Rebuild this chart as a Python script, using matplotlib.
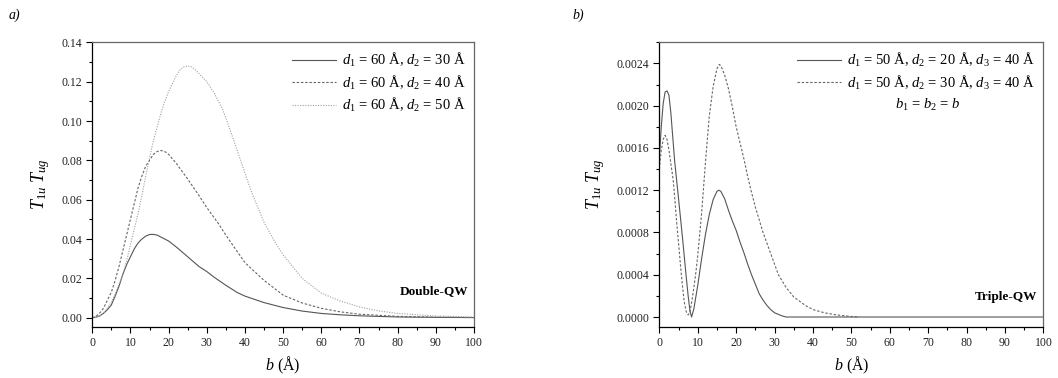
import matplotlib
matplotlib.use("Agg")
import matplotlib.pyplot as plt
from matplotlib.ticker import MultipleLocator, FormatStrFormatter

plt.rcParams['font.family'] = ['Liberation Serif', 'DejaVu Serif']
plt.rcParams['mathtext.fontset'] = 'custom'
plt.rcParams['mathtext.rm'] = 'Liberation Serif'
plt.rcParams['mathtext.it'] = 'Liberation Serif:italic'
plt.rcParams['mathtext.bf'] = 'Liberation Serif:bold'

# ---------------- Panel a) Double-QW ----------------
a_x_d30 = [0, 1, 2, 3, 4, 5, 6, 7, 8, 9, 10, 11, 12, 13, 14, 15, 16, 17, 18, 20, 22, 25, 28, 30, 32, 35, 38, 40, 45, 50, 55, 60, 65, 70, 80, 90, 100]
a_y_d30 = [0, 0.0003, 0.001, 0.0023, 0.0042, 0.0065, 0.011, 0.016, 0.022, 0.027, 0.031, 0.035, 0.038, 0.040, 0.0415, 0.0423, 0.0424, 0.042, 0.041, 0.039, 0.036, 0.031, 0.026, 0.0235, 0.0205, 0.0165, 0.0128, 0.011, 0.0077, 0.0052, 0.0034, 0.0022, 0.0015, 0.001, 0.0004, 0.0002, 0.0001]

a_x_d40 = [0, 1, 2, 3, 4, 5, 6, 7, 8, 9, 10, 11, 12, 13, 14, 15, 16, 17, 18, 19, 20, 22, 25, 28, 30, 33, 35, 40, 45, 50, 55, 60, 65, 70, 80, 90, 100]
a_y_d40 = [0, 0.0008, 0.0025, 0.005, 0.009, 0.013, 0.019, 0.026, 0.034, 0.042, 0.050, 0.058, 0.066, 0.072, 0.077, 0.080, 0.083, 0.0845, 0.085, 0.0845, 0.083, 0.0785, 0.0705, 0.062, 0.056, 0.048, 0.042, 0.028, 0.019, 0.0115, 0.0075, 0.0048, 0.003, 0.0018, 0.0007, 0.0003, 0.0001]

a_x_d50 = [0, 1, 2, 3, 4, 5, 6, 7, 8, 9, 10, 11, 12, 13, 14, 15, 16, 17, 18, 19, 20, 21, 22, 23, 24, 25, 26, 27, 28, 30, 32, 34, 35, 37, 40, 42, 45, 48, 50, 55, 60, 65, 70, 75, 80, 90, 100]
a_y_d50 = [0, 0.0003, 0.001, 0.0025, 0.005, 0.008, 0.012, 0.017, 0.022, 0.029, 0.037, 0.045, 0.053, 0.062, 0.072, 0.081, 0.090, 0.097, 0.104, 0.110, 0.115, 0.119, 0.123, 0.126, 0.1275, 0.128, 0.1275, 0.126, 0.124, 0.120, 0.114, 0.1065, 0.1015, 0.0905, 0.0735, 0.0625, 0.0485, 0.038, 0.032, 0.020, 0.0125, 0.0085, 0.0055, 0.0035, 0.0022, 0.0009, 0.0004]

a_labels = [r'$d_{\mathit{1}}$ = 60 Å, $d_{\mathit{2}}$ = 30 Å',
            r'$d_{\mathit{1}}$ = 60 Å, $d_{\mathit{2}}$ = 40 Å',
            r'$d_{\mathit{1}}$ = 60 Å, $d_{\mathit{2}}$ = 50 Å']

# ---------------- Panel b) Triple-QW ----------------
b_x_d20 = [0, 0.5, 1, 1.5, 2, 2.5, 3, 3.5, 4, 5, 6, 7, 7.5, 8, 8.4, 9, 10, 11, 12, 13, 14, 15, 15.5, 16, 17, 18, 19, 20, 21, 22, 23, 24, 25, 26, 27, 28, 29, 30, 32, 33, 100]
b_y_d20 = [0.0015, 0.0018, 0.00202, 0.00213, 0.00214, 0.0021, 0.00193, 0.0017, 0.00147, 0.00112, 0.00076, 0.00038, 0.0002, 0.00005, 0.0, 0.00008, 0.0003, 0.00055, 0.00078, 0.00097, 0.00111, 0.00119, 0.0012, 0.00119, 0.00112, 0.00101, 0.00091, 0.00082, 0.00071, 0.00061, 0.0005, 0.0004, 0.00031, 0.00022, 0.00016, 0.00011, 0.00007, 0.00004, 0.00001, 0.0, 0.0]

b_x_d30 = [0, 0.5, 1, 1.5, 2, 2.5, 3, 3.6, 4, 4.5, 5, 5.5, 6, 6.5, 7, 7.5, 8, 8.5, 9, 9.5, 10, 11, 12, 13, 14, 15, 15.6, 16, 17, 18, 19, 20, 21, 22, 23, 24, 25, 27, 29, 31, 33, 35, 38, 40, 43, 46, 50, 52]
b_y_d30 = [0.0014, 0.00158, 0.00168, 0.00172, 0.00168, 0.00158, 0.00145, 0.0013, 0.00113, 0.0009, 0.0007, 0.00049, 0.0003, 0.00014, 0.00005, 0.00002, 0.00005, 0.00016, 0.00028, 0.00042, 0.00058, 0.00098, 0.00146, 0.0019, 0.00218, 0.00235, 0.00239, 0.00238, 0.00229, 0.00216, 0.00199, 0.0018, 0.00165, 0.0015, 0.00133, 0.00118, 0.00104, 0.0008, 0.0006, 0.0004, 0.00028, 0.00019, 0.00011, 0.00007, 0.00004, 0.00002, 0.000005, 0.0]

b_labels = [r'$d_{\mathit{1}}$ = 50 Å, $d_{\mathit{2}}$ = 20 Å, $d_{\mathit{3}}$ = 40 Å',
            r'$d_{\mathit{1}}$ = 50 Å, $d_{\mathit{2}}$ = 30 Å, $d_{\mathit{3}}$ = 40 Å']

fig = plt.figure(figsize=(10.58, 3.78), dpi=100)
ax1 = fig.add_axes([0.0872, 0.1349, 0.3608, 0.7532])
ax2 = fig.add_axes([0.6232, 0.1349, 0.3630, 0.7532])

lw = 0.8
ax1.plot(a_x_d30, a_y_d30, color='#555555', lw=lw, ls='-', label=a_labels[0])
ax1.plot(a_x_d40, a_y_d40, color='#666666', lw=lw, ls=(0, (2.2, 1.6)), label=a_labels[1])
ax1.plot(a_x_d50, a_y_d50, color='#a0a0a0', lw=lw, ls=(0, (1, 1.3)), label=a_labels[2])

ax2.plot(b_x_d20, b_y_d20, color='#555555', lw=lw, ls='-', label=b_labels[0])
ax2.plot(b_x_d30, b_y_d30, color='#666666', lw=lw, ls=(0, (2.2, 1.6)), label=b_labels[1])

def style(ax, ymin, ymax, ymaj, ymin_, fmt):
    ax.set_xlim(0, 100)
    ax.set_ylim(ymin, ymax)
    ax.xaxis.set_major_locator(MultipleLocator(10))
    ax.xaxis.set_minor_locator(MultipleLocator(5))
    ax.yaxis.set_major_locator(MultipleLocator(ymaj))
    ax.yaxis.set_minor_locator(MultipleLocator(ymin_))
    ax.yaxis.set_major_formatter(FormatStrFormatter(fmt))
    ax.tick_params(which='major', direction='out', length=4, width=0.8, labelsize=8.5, pad=3,
                   labelcolor='#222222')
    ax.tick_params(which='minor', direction='out', length=2.5, width=0.8)
    ax.tick_params(top=False, right=False)
    for s in ax.spines.values():
        s.set_linewidth(0.9)
    ax.spines['top'].set_color('#666666')
    ax.spines['right'].set_color('#666666')
    ax.set_xlabel(r'$b$ (Å)', fontsize=11.5, labelpad=4)
    ax.set_ylabel(r'$T_{\mathit{1u}}\ T_{\mathit{ug}}$', fontsize=13, labelpad=7)

style(ax1, -0.0047, 0.14, 0.02, 0.01, '%.2f')
style(ax2, -0.0000946, 0.0026, 0.0004, 0.0002, '%.4f')

leg_kw = dict(loc='upper right', frameon=False, fontsize=10.5, handlelength=3.0,
              handletextpad=0.4, labelspacing=0.3, borderaxespad=0.2)
ax1.legend(bbox_to_anchor=(1.0, 1.0), **leg_kw)
ax2.legend(bbox_to_anchor=(1.0, 1.0), **leg_kw)

ax2.text(0.70, 0.78, r'$b_{\mathit{1}}$ = $b_{\mathit{2}}$ = $b$', transform=ax2.transAxes,
         fontsize=10.5, ha='center', va='center')

ax1.text(0.985, 0.125, 'Double-QW', transform=ax1.transAxes, fontsize=9.5,
         fontweight='bold', ha='right', va='center')
ax2.text(0.985, 0.105, 'Triple-QW', transform=ax2.transAxes, fontsize=9.5,
         fontweight='bold', ha='right', va='center')

fig.text(14 / 1058, 1 - 15 / 378, 'a)', fontsize=10, style='italic', ha='center', va='center')
fig.text(578 / 1058, 1 - 15 / 378, 'b)', fontsize=10, style='italic', ha='center', va='center')

fig.savefig('out.png', dpi=100)
